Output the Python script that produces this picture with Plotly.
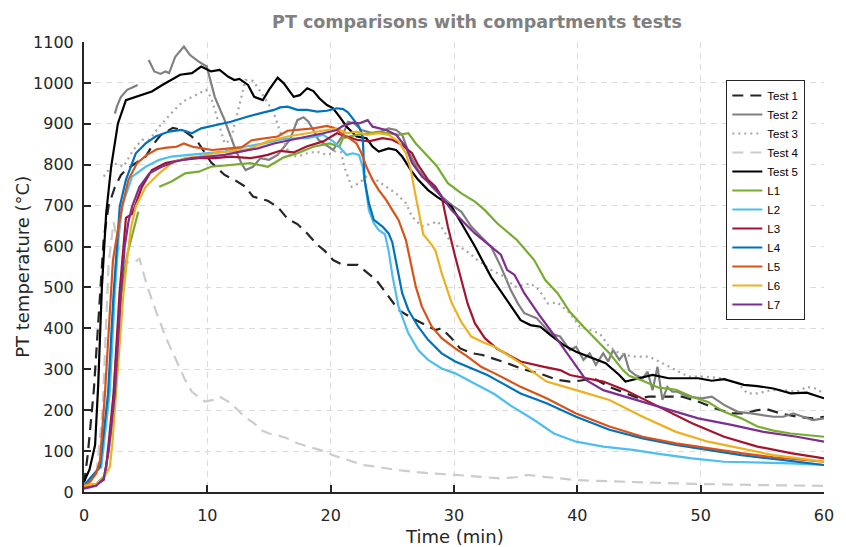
import plotly.graph_objects as go

# ---------------- data (time in min, temperature in °C) ----------------
test1_t = [0, 0.3, 0.8, 1.2, 1.6, 2.0, 2.5, 3.0, 3.5, 4.0, 4.5, 5.0, 5.5, 6.2, 7.2, 8.0, 8.7, 9.3, 10.3, 11.4,
           12.2, 13.1, 13.7, 14.9, 15.7, 16.5, 17.3, 18.1, 18.9, 19.5, 20.2, 21.0, 22.2, 23.0, 23.7, 24.3, 25.0, 25.5,
           26.6, 27.4, 28.5, 29.0, 29.8, 30.5, 31.5, 32.3, 33.5, 34.3, 35.4, 37.3, 38.4, 39.4, 40.2, 41.3, 42.6, 43.9,
           45.0, 45.8, 47.1, 48.5, 49.8, 51.2, 52.5, 53.5, 54.6, 55.4, 56.5, 57.8, 59.1, 60]
test1_T = [20, 90, 250, 450, 620, 700, 745, 775, 790, 800, 810, 820, 845, 872, 890, 885, 870, 852, 806, 775,
           763, 746, 722, 712, 697, 668, 655, 632, 605, 590, 567, 555, 555, 535, 518, 494, 465, 445,
           425, 412, 396, 400, 376, 351, 339, 335, 323, 315, 302, 286, 274, 270, 272, 278, 257, 241,
           229, 233, 233, 233, 221, 204, 192, 192, 200, 202, 192, 184, 180, 184]

test2_t = [2.5, 2.7, 3.0, 3.5, 4.0, 4.35, 4.8, 5.25, 5.7, 6.2, 6.6, 6.9, 7.4, 8.1, 8.6, 9.3, 9.95, 10.6, 11.4, 12.2,
           12.75, 13.1, 13.7, 14.3, 15.0, 15.7, 16.2, 16.7, 17.3, 17.8, 18.2, 18.6, 19.0, 19.8, 20.2, 21.0, 21.4, 21.9,
           22.5, 23.4, 24.0, 24.7, 25.3, 25.8, 26.3, 27.1, 28.2, 29.0, 29.8, 30.6, 31.4, 32.2, 33.0, 33.8, 34.6, 35.2,
           35.7, 36.7, 37.8, 38.6, 39.4, 39.9, 40.5, 41.0, 41.5, 42.1, 42.5, 42.9, 43.4, 43.8, 44.2, 44.7, 45.3, 45.7,
           46.1, 46.5, 46.9, 47.3, 47.7, 48.1, 49.0, 50.1, 50.9, 51.9, 53.0, 54.1, 55.1, 55.9, 56.7, 57.5, 58.3, 59.1, 60]
test2_T = [925, 945, 966, 983, 990, 995, None, 1056, 1028, 1022, 1028, 1024, 1064, 1089, 1068, 1052, 1040, 966, 909, 844,
           804, 787, 795, 816, 812, 824, 844, 861, 909, 916, 905, 885, 861, 844, 836, 873, 905, 901,
           885, 877, 880, 889, 885, 873, 832, 787, 746, 722, 702, 685, 649, 624, 600, 551, 494, 460,
           437, 425, 388, 380, 347, 355, 323, 339, 311, 339, 319, 347, 323, 339, 298, 286, 278, 294,
           249, 306, 225, 257, 245, 245, 233, 229, 233, 213, 196, 192, 188, 184, 184, 192, 184, 176, 180]

test3_t = [1.6, 2.4, 3.2, 4.0, 4.7, 5.3, 6.1, 7.2, 8.0, 9.1, 9.9, 10.3, 10.9, 11.4, 11.9, 12.5, 13.1, 13.7, 14.6, 15.4,
           15.9, 16.7, 17.3, 18.1, 18.9, 19.7, 20.3, 20.7, 21.1, 21.7, 22.3, 22.9, 23.7, 24.5, 25.3, 26.1, 26.6, 27.4,
           28.2, 28.7, 29.8, 30.9, 31.9, 33.0, 34.1, 34.9, 35.5, 36.2, 36.9, 37.6, 38.4, 39.4, 40.2, 41.0, 41.8, 42.6,
           43.4, 44.5, 45.8, 46.9, 48.0, 49.0, 50.3, 51.7, 53.0, 53.8, 54.6, 55.7, 56.7, 57.8, 58.6, 59.3, 60]
test3_T = [771, 804, 795, 836, 861, 861, 893, 930, 954, 971, 983, 965, 901, 852, 861, 934, 1007, 1005, 966, 926,
           880, 822, 820, 828, 832, 824, 830, 852, 795, 746, 755, 771, 763, 746, 730, 706, 673, 649,
           657, 661, 608, 592, 567, 543, 526, 502, 505, 510, 494, 461, 463, 437, 404, 396, 388, 355,
           339, 331, 331, 315, 298, 282, 282, 278, 266, 241, 241, 249, 249, 245, 257, 253, 241]

test4_t = [0, 1.0, 1.5, 2.0, 2.4, 2.8, 3.2, 4.0, 4.5, 5.1, 5.8, 6.6, 7.1, 7.8, 8.2, 8.75, 9.3, 9.8, 10.5, 11.0,
           11.7, 12.5, 13.0, 13.8, 14.3, 15.0, 15.7, 16.5, 17.3, 18.2, 19.1, 20.2, 21.0, 21.8, 22.6, 23.7, 24.5, 25.3,
           26.5, 27.9, 30.1, 32.2, 33.8, 35.0, 36.0, 37.3, 40.0, 43.9, 49.3, 54.6, 60]
test4_T = [15, 40, 200, 560, 660, 600, 563, 560, 570, 505, 445, 380, 347, 298, 274, 245, 233, 221, 225, 233,
           221, 200, 184, 168, 152, 143, 139, 131, 119, 111, 103, 90, 82, 74, 66, 62, 58, 54,
           50, 46, 42, 36, 33, 36, 42, 37, 29, 25, 20, 17, 15]

test5_t = [0, 0.45, 0.9, 1.15, 1.45, 1.8, 2.2, 2.75, 3.4, 4.5, 5.5, 6.35, 7.1, 7.8, 8.75, 9.5, 10.3, 11.0, 11.7, 12.2,
           12.6, 13.3, 13.8, 14.5, 15.0, 15.7, 16.2, 17.0, 17.5, 18.1, 18.6, 19.1, 19.7, 20.2, 20.7, 21.3, 22.1, 22.9,
           23.4, 23.9, 24.7, 25.3, 25.8, 26.5, 27.1, 27.9, 28.6, 29.8, 30.6, 31.7, 33.0, 34.1, 35.4, 36.2, 37.0, 37.8,
           38.9, 39.9, 41.3, 42.3, 43.4, 43.9, 45.0, 46.1, 47.4, 48.8, 49.8, 50.9, 51.9, 53.5, 54.6, 55.9, 57.3, 58.6, 60]
test5_T = [25, 55, 115, 260, 500, 682, 795, 901, 958, 970, 979, 995, 1007, 1020, 1024, 1040, 1028, 1032, 1015, 1007,
           1010, 995, 966, 958, 983, 1013, 999, 966, 970, 987, 980, 962, 946, 938, 918, 893, 869, 865,
           844, 832, 840, 836, 820, 787, 763, 738, 722, 698, 657, 600, 526, 477, 420, 408, 404, 384,
           359, 343, 327, 315, 286, 270, 278, 286, 278, 278, 278, 272, 276, 262, 259, 253, 241, 243, 229]

l1_t = [0, 1.0, 1.7, 2.2, 2.6, 3.0, 3.5, 4.0, 4.4, 5.2, 6.1, 7.1, 8.2, 9.3, 10.3, 11.9, 13.5, 14.9, 16.2, 17.3,
        18.6, 19.9, 20.7, 21.0, 22.1, 23.1, 23.9, 24.7, 25.5, 26.3, 26.9, 27.7, 28.6, 29.5, 30.6, 31.7, 32.5, 33.5,
        35.1, 36.5, 37.4, 38.4, 39.4, 40.5, 41.5, 42.6, 43.7, 44.2, 45.3, 46.6, 48.0, 49.3, 50.6, 51.9, 53.3, 54.6,
        55.9, 57.3, 60]
l1_T = [15, 20, 40, 150, 330, 480, 580, 640, 685, None, 746, 759, 779, 783, 795, 799, 804, 795, 818, 828,
        844, 852, 844, 865, 873, 877, 881, 877, 873, 877, 852, 826, 797, 755, 730, 710, 689, 657,
        616, 567, 518, 486, 440, 404, 372, 339, 298, 284, 272, 255, 250, 233, 220, 196, 180, 160,
        150, 143, 135]

l2_t = [0, 1.4, 2.08, 2.5, 2.8, 3.1, 3.9, 5.0, 6.1, 7.1, 8.5, 9.9, 11.4, 13.0, 14.6, 16.2, 18.1, 19.4, 20.2, 20.7,
        21.3, 21.8, 22.3, 22.6, 22.9, 23.1, 23.5, 23.9, 24.4, 24.7, 25.0, 25.5, 26.3, 27.1, 27.9, 29.0, 30.1, 31.1,
        32.2, 33.3, 34.6, 36.5, 38.1, 39.9, 42.1, 44.5, 46.6, 49.3, 51.9, 54.6, 57.3, 60]
l2_T = [18, 62, 241, 486, 620, 700, 771, 795, 812, 820, 824, 828, 832, 844, 852, 863, 865, 873, 857, 844,
        824, 828, 824, 795, 738, 689, 657, 640, 630, 590, 530, 453, 388, 347, 323, 302, 290, 274,
        257, 239, 211, 176, 143, 123, 111, 103, 93, 82, 74, 72, 70, 66]

l3_t = [0, 1.0, 1.6, 1.8, 2.1, 2.4, 2.88, 3.2, 3.4, 3.9, 4.7, 5.5, 6.6, 7.9, 9.3, 10.6, 11.9, 13.5, 14.9, 15.9,
        17.0, 18.1, 19.4, 20.5, 21.3, 22.1, 23.1, 24.2, 25.0, 25.8, 26.6, 27.1, 27.9, 28.5, 29.0, 29.5, 30.1, 30.6,
        31.1, 31.7, 32.5, 33.5, 35.4, 37.3, 38.6, 39.4, 40.7, 42.1, 43.9, 45.5, 47.1, 49.3, 51.9, 54.6, 57.3, 60]
l3_T = [12, 18, 30, 62, 150, 241, 486, 600, 670, 680, 746, 787, 804, 812, 816, 816, 820, 816, 824, 834,
        830, 845, 857, 877, 869, 861, 857, 865, 861, 848, 828, 799, 763, 746, 722, 649, 575, 518,
        461, 412, 376, 350, 319, 306, 298, 286, 278, 270, 249, 225, 200, 168, 135, 111, 95, 82]

l4_t = [0, 1.3, 1.95, 2.4, 2.9, 3.4, 4.2, 5.0, 5.8, 6.9, 7.9, 8.75, 9.5, 10.6, 11.9, 13.3, 14.3, 15.4, 15.9, 16.5,
        17.3, 18.1, 18.9, 19.7, 20.5, 21.0, 21.4, 21.8, 22.3, 22.6, 22.75, 23.1, 23.5, 24.2, 24.7, 25.0, 25.3, 25.8,
        26.3, 27.1, 27.9, 29.0, 30.1, 31.1, 32.7, 33.3, 35.4, 37.5, 39.9, 42.6, 45.3, 48.0, 50.6, 53.3, 55.9, 60]
l4_T = [15, 62, 241, 486, 698, 763, 828, 852, 869, 881, 885, 877, 889, 897, 905, 918, 926, 934, 940, 942,
        934, 934, 930, 932, 938, 936, 928, 913, 893, 869, 763, 706, 665, 649, 632, 610, 560, 486,
        445, 404, 372, 339, 319, 306, 286, 276, 241, 217, 184, 152, 131, 115, 103, 90, 81, 66]

l5_t = [0, 0.5, 1.0, 1.3, 1.7, 2.1, 2.35, 2.7, 3.1, 3.6, 4.3, 5.1, 5.9, 6.7, 7.5, 8.1, 8.8, 9.6, 10.4, 11.2,
        12.0, 12.8, 13.6, 14.6, 15.7, 16.5, 17.5, 18.6, 19.7, 20.3, 21.0, 21.5, 22.1, 22.5, 22.9, 23.4, 23.9, 24.5,
        25.0, 25.5, 26.1, 26.5, 26.9, 27.4, 28.2, 29.0, 30.1, 31.1, 32.2, 33.3, 35.4, 37.5, 39.9, 42.6, 45.3, 48.0,
        50.6, 53.3, 55.9, 60]
l5_T = [15, 25, 46, 78, 241, 445, 567, 632, 698, 763, 804, 824, 838, 842, 844, 852, 844, 840, 836, 838,
        840, 843, 860, 865, 869, 883, 886, 889, 895, 890, 873, 865, 852, 828, 795, 763, 738, 714,
        689, 665, 616, 560, 502, 453, 404, 376, 351, 331, 306, 290, 257, 229, 192, 160, 135, 119,
        107, 95, 85, 74]

l6_t = [0, 1.0, 1.6, 2.1, 2.3, 2.6, 2.9, 3.2, 3.5, 3.8, 4.2, 5.0, 6.1, 7.1, 8.2, 9.3, 10.6, 11.9, 13.3, 14.9,
        16.5, 18.1, 19.9, 20.5, 21.3, 22.1, 22.9, 23.9, 24.7, 25.5, 26.1, 26.5, 26.8, 27.1, 27.5, 28.2, 28.5, 29.0,
        29.8, 30.6, 31.4, 32.5, 33.3, 35.4, 37.5, 39.9, 42.6, 45.3, 48.0, 50.6, 53.3, 55.9, 60]
l6_T = [15, 20, 35, 62, 120, 241, 380, 486, 570, 645, 698, 746, 779, 804, 816, 820, 828, 832, 838, 857,
        869, 877, 885, 889, 877, 881, 873, 877, 873, 857, 828, 787, 738, 690, 630, 604, 590, 535,
        463, 415, 380, 364, 355, 315, 270, 249, 225, 184, 147, 123, 107, 90, 74]

l7_t = [0, 1.0, 1.6, 2.0, 2.5, 3.0, 3.3, 3.6, 3.9, 4.5, 5.3, 6.3, 7.4, 8.75, 10.1, 11.4, 12.7, 14.1, 15.4, 16.7,
        18.1, 19.4, 20.5, 21.0, 21.8, 22.3, 23.0, 23.4, 24.5, 25.3, 26.1, 26.6, 27.4, 28.2, 28.7, 29.8, 30.6, 31.7,
        33.0, 33.8, 34.3, 34.9, 35.7, 37.0, 38.4, 39.7, 40.7, 42.1, 43.9, 45.8, 47.7, 49.8, 52.5, 55.1, 57.8, 60]
l7_T = [8, 15, 33, 100, 241, 486, 600, 660, 698, 746, 779, 795, 808, 816, 820, 824, 832, 840, 852, 861,
        869, 877, 885, 895, 903, 901, 909, 893, 885, 873, 844, 804, 771, 750, 734, 689, 665, 632,
        600, 580, 543, 531, 486, 429, 372, 315, 274, 249, 233, 217, 200, 180, 164, 147, 135, 123]

x_ticks = [0, 10, 20, 30, 40, 50, 60]
y_ticks = [0, 100, 200, 300, 400, 500, 600, 700, 800, 900, 1000, 1100]

# ---------------- styles ----------------
series = [
    ("Test 1", test1_t, test1_T, "#262626", "11px,7px"),
    ("Test 2", test2_t, test2_T, "#808080", "solid"),
    ("Test 3", test3_t, test3_T, "#A6A6A6", "2px,4px"),
    ("Test 4", test4_t, test4_T, "#CCCCCC", "11px,7px"),
    ("Test 5", test5_t, test5_T, "#000000", "solid"),
    ("L1", l1_t, l1_T, "#77AC30", "solid"),
    ("L2", l2_t, l2_T, "#4DBEEE", "solid"),
    ("L3", l3_t, l3_T, "#A2142F", "solid"),
    ("L4", l4_t, l4_T, "#0072BD", "solid"),
    ("L5", l5_t, l5_T, "#D95319", "solid"),
    ("L6", l6_t, l6_T, "#EDB120", "solid"),
    ("L7", l7_t, l7_T, "#7E2F8E", "solid"),
]

fig = go.Figure()
for name, t, T, col, dash in series:
    fig.add_trace(go.Scatter(x=t, y=T, name=name, mode="lines", connectgaps=False,
                             line=dict(color=col, width=2.2, dash=dash)))

FONT = "DejaVu Sans, Verdana, sans-serif"
LFONT = "Liberation Sans, Arial, Helvetica, sans-serif"
axis_col = "#262626"
grid_col = "#DCDCDC"

fig.update_layout(
    width=846, height=547,
    margin=dict(l=84, r=12, t=42, b=55),
    paper_bgcolor="white", plot_bgcolor="white",
    font=dict(family=FONT, color=axis_col, size=16),
    title=dict(text="<b>PT comparisons with compartments tests</b>",
               x=477 / 846, xanchor="center", y=1 - 22 / 547, yanchor="middle",
               font=dict(family=FONT, size=17.5, color="#808080")),
    showlegend=True,
    legend=dict(x=(735 - 84) / 750, y=(492 - 80) / 450, xanchor="left", yanchor="top",
                bgcolor="white", bordercolor=axis_col, borderwidth=1,
                font=dict(family=LFONT, size=11.5, color="#000000"),
                tracegroupgap=0, itemwidth=30),
)

fig.update_xaxes(range=[0, 60], tickmode="array", tickvals=x_ticks, ticktext=[str(v) for v in x_ticks],
                 showline=True, linecolor=axis_col, linewidth=2,
                 ticks="inside", ticklen=7, tickwidth=2, tickcolor=axis_col,
                 showgrid=True, gridcolor=grid_col, gridwidth=1, griddash="6px,5px",
                 zeroline=False, tickfont=dict(family=FONT, size=16), ticklabelstandoff=8)
fig.update_yaxes(range=[0, 1100], tickmode="array", tickvals=y_ticks, ticktext=[str(v) for v in y_ticks],
                 showline=True, linecolor=axis_col, linewidth=2,
                 ticks="inside", ticklen=7, tickwidth=2, tickcolor=axis_col,
                 showgrid=True, gridcolor=grid_col, gridwidth=1, griddash="6px,5px",
                 zeroline=False, tickfont=dict(family=FONT, size=16), ticklabelstandoff=5)

fig.add_annotation(text="Time (min)", xref="paper", yref="paper", x=0.5, y=(492 - 536) / 450,
                   xanchor="center", yanchor="middle", showarrow=False,
                   font=dict(family=FONT, size=18, color=axis_col))
fig.add_annotation(text="PT temperature (°C)", xref="paper", yref="paper", x=(21 - 84) / 750, y=0.5,
                   xanchor="center", yanchor="middle", textangle=-90, showarrow=False,
                   font=dict(family=FONT, size=18, color=axis_col))

fig.write_html("out.html")
